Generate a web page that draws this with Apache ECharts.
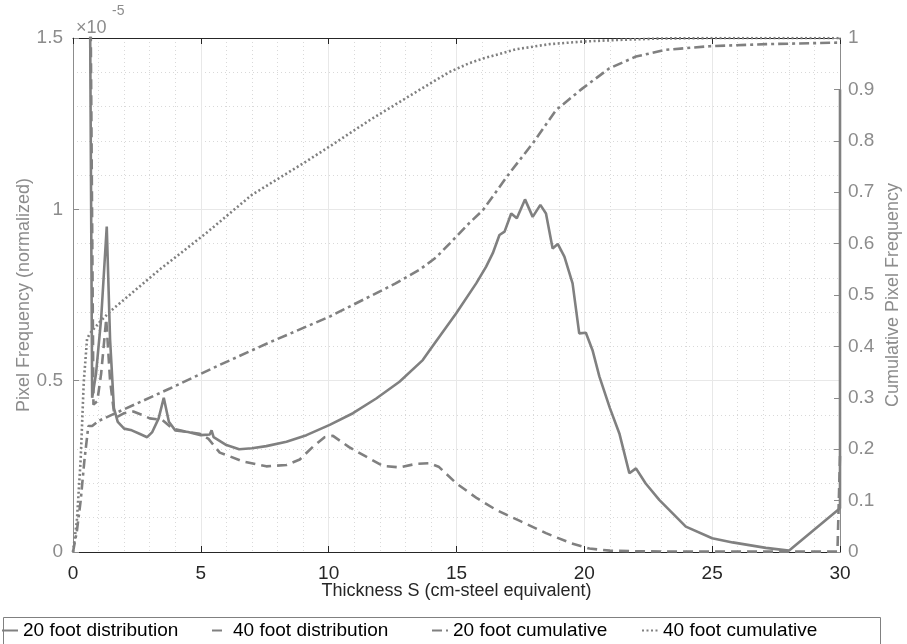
<!DOCTYPE html>
<html>
<head>
<meta charset="utf-8">
<script src="https://cdn.jsdelivr.net/npm/echarts@6/dist/echarts.min.js"></script>
<style>
  html, body { margin: 0; padding: 0; background: #fff; }
  #chart { width: 907px; height: 644px; }
</style>
</head>
<body>
<div id="chart"></div>
<script>
// thickness (cm-steel) and normalized pixel frequency (x1e-5)
var dist20X = [0.6, 0.75, 0.9, 1.1, 1.32, 1.45, 1.6, 1.75, 2.0, 2.3, 2.6, 2.9, 3.1, 3.35, 3.55, 3.75, 4.0, 4.5, 5.0, 5.35, 5.42, 5.5,
    6.0, 6.5, 7.0, 7.56, 8.35, 9.13, 10.04, 10.95, 11.86, 12.77, 13.68, 13.95, 14.99, 15.77, 16.16, 16.42, 16.68, 16.88,
    17.14, 17.36, 17.68, 17.98, 18.28, 18.5, 18.76, 18.96, 19.22, 19.54, 19.8, 20.06, 20.32, 20.59, 21.0, 21.37, 21.76,
    22.02, 22.4, 22.93, 23.97, 25.0, 25.8, 27.1, 28.0, 30.0, 30.0];
var dist20Y = [2.5, 0.45, 0.52, 0.68, 0.95, 0.62, 0.42, 0.38, 0.36, 0.355, 0.345, 0.335, 0.35, 0.39, 0.45, 0.38, 0.355, 0.35, 0.341, 0.343, 0.355, 0.335,
    0.312, 0.300, 0.303, 0.309, 0.322, 0.341, 0.371, 0.405, 0.448, 0.497, 0.56, 0.589, 0.697, 0.784, 0.833, 0.872, 0.925, 0.935,
    0.988, 0.974, 1.029, 0.978, 1.013, 0.988, 0.886, 0.899, 0.862, 0.784, 0.638, 0.64, 0.589, 0.512, 0.42, 0.346, 0.23,
    0.244, 0.2, 0.152, 0.074, 0.04, 0.028, 0.012, 0.004, 0.128, 1.35];

var dist40X = [0.6, 0.8, 0.95, 1.1, 1.3, 1.45, 1.6, 1.75, 2.0, 2.36, 2.7, 3.0, 3.5, 3.9, 4.5, 4.96, 5.3, 5.74, 6.1, 6.65,
    7.56, 8.35, 8.87, 9.38, 9.84, 10.17, 10.8, 11.47, 12.12, 12.77, 13.4, 13.95, 14.3, 15.0, 15.8, 16.55, 17.5, 18.5,
    19.5, 20.2, 21.0, 22.0, 25.0, 29.9, 30.0];
var dist40Y = [2.5, 0.43, 0.44, 0.52, 0.68, 0.5, 0.41, 0.395, 0.405, 0.41, 0.40, 0.39, 0.385, 0.36, 0.35, 0.345, 0.33, 0.29, 0.28, 0.264,
    0.25, 0.254, 0.27, 0.307, 0.335, 0.339, 0.306, 0.278, 0.251, 0.247, 0.257, 0.259, 0.249, 0.2, 0.157, 0.123, 0.09, 0.055,
    0.025, 0.01, 0.004, 0.002, 0.001, 0.001, 0.28];

// cumulative pixel frequency (right axis)
var cum20X = [0, 0.15, 0.3, 0.45, 0.6, 0.75, 1.0, 1.7, 3.79, 5.74, 7.7, 10.04, 11.6, 12.6, 13.55, 14.2, 14.73, 15.5, 16.03, 17.07,
    17.98, 18.9, 19.93, 20.98, 22.02, 23.19, 24.9, 27.1, 29.9, 30.0];
var cum20Y = [0, 0.04, 0.1, 0.18, 0.245, 0.245, 0.255, 0.271, 0.318, 0.364, 0.408, 0.458, 0.497, 0.522, 0.549, 0.573, 0.6, 0.64, 0.665, 0.737,
    0.795, 0.86, 0.902, 0.941, 0.964, 0.977, 0.984, 0.988, 0.991, 1.0];

var cum40X = [0, 0.15, 0.3, 0.42, 0.55, 0.66, 1.0, 1.45, 3.4, 3.79, 5.2, 7.0, 9.0, 10.04, 11.6, 13.55, 14.73, 15.5, 16.03,
    17.33, 18.63, 19.93, 21.2, 23.0, 25.0, 30.0];
var cum40Y = [0, 0.06, 0.18, 0.33, 0.415, 0.425, 0.445, 0.468, 0.55, 0.565, 0.62, 0.695, 0.756, 0.789, 0.84, 0.899, 0.934, 0.951, 0.96,
    0.978, 0.988, 0.993, 0.996, 0.999, 1.0, 1.0];

var seriesNames = ['20 foot distribution', '40 foot distribution', '20 foot cumulative', '40 foot cumulative'];

function pairs(xs, ys) {
    var out = [];
    for (var i = 0; i < xs.length; i++) out.push([xs[i], ys[i]]);
    return out;
}

var FONT = 'Liberation Sans, Arial, Helvetica, sans-serif';
var LINE = '#808080';
var AXGRAY = '#8c8c8c';
var DARK = '#262626';

var chart = echarts.init(document.getElementById('chart'), null, { renderer: 'canvas' });

function legendAt(name, left) {
    return {
        data: [name],
        left: left,
        top: 621,
        padding: 0,
        itemWidth: 16,
        itemHeight: 10,
        itemStyle: { opacity: 0 },
        textStyle: { fontFamily: FONT, fontSize: 19, color: '#000' }
    };
}

var option = {
    animation: false,
    backgroundColor: '#fff',
    textStyle: { fontFamily: FONT },
    grid: { left: 73, right: 67, top: 38, bottom: 92, containLabel: false, outerBoundsMode: 'none' },
    legend: [
        legendAt(seriesNames[0], 1),
        legendAt(seriesNames[1], 211),
        legendAt(seriesNames[2], 431),
        legendAt(seriesNames[3], 641)
    ],
    graphic: [
        { type: 'rect', shape: { x: 3.5, y: 617.5, width: 877, height: 40 },
          style: { fill: '#fff', stroke: '#808080', lineWidth: 1 }, z: -1 },
        { type: 'text', left: 76, top: 19, style: { text: '\u00d710', font: '18px ' + FONT, fill: AXGRAY } },
        { type: 'text', left: 112, top: 4, style: { text: '-5', font: '14px ' + FONT, fill: AXGRAY } }
    ],
    xAxis: [{
        type: 'value', min: 0, max: 30, interval: 5,
        name: 'Thickness S (cm-steel equivalent)', nameLocation: 'middle', nameGap: 30, nameMoveOverlap: false,
        nameTextStyle: { fontFamily: FONT, fontSize: 18, color: DARK },
        axisLine: { show: true, onZero: false, lineStyle: { color: DARK, width: 1 } },
        axisTick: { inside: true, length: 6, lineStyle: { color: DARK } },
        axisLabel: { fontFamily: FONT, fontSize: 19, color: DARK, margin: 12 },
        splitLine: { show: true, lineStyle: { color: '#e8e8e8', width: 1 } },
        minorTick: { show: false, splitNumber: 5 },
        minorSplitLine: { show: true, lineStyle: { color: '#d9d9d9', width: 1, type: [1, 3] } }
    }, {
        type: 'value', min: 0, max: 30, interval: 5, position: 'top',
        axisLine: { show: true, onZero: false, lineStyle: { color: DARK, width: 1 } },
        axisTick: { inside: true, length: 6, lineStyle: { color: DARK } },
        axisLabel: { show: false },
        splitLine: { show: false }
    }],
    yAxis: [{
        type: 'value', min: 0, max: 1.5, interval: 0.5, position: 'left',
        name: 'Pixel Frequency (normalized)', nameLocation: 'middle', nameGap: 40, nameRotate: 90, nameMoveOverlap: false,
        nameTextStyle: { fontFamily: FONT, fontSize: 18, color: AXGRAY },
        axisLine: { show: true, onZero: false, lineStyle: { color: AXGRAY, width: 1 } },
        axisTick: { inside: true, length: 6, lineStyle: { color: AXGRAY } },
        axisLabel: { fontFamily: FONT, fontSize: 19, color: AXGRAY, margin: 10 },
        splitLine: { show: true, lineStyle: { color: '#e8e8e8', width: 1 } },
        minorTick: { show: false, splitNumber: 5 },
        minorSplitLine: { show: true, lineStyle: { color: '#d9d9d9', width: 1, type: [1, 3] } }
    }, {
        type: 'value', min: 0, max: 1, interval: 0.1, position: 'right',
        name: 'Cumulative Pixel Frequency', nameLocation: 'middle', nameGap: 44, nameRotate: 90, nameMoveOverlap: false,
        nameTextStyle: { fontFamily: FONT, fontSize: 18, color: AXGRAY },
        axisLine: { show: true, onZero: false, lineStyle: { color: AXGRAY, width: 1 } },
        axisTick: { inside: true, length: 6, lineStyle: { color: AXGRAY } },
        axisLabel: { fontFamily: FONT, fontSize: 19, color: AXGRAY, margin: 8 },
        splitLine: { show: false }
    }],
    series: [{
        name: seriesNames[0], type: 'line', xAxisIndex: 0, yAxisIndex: 0,
        data: pairs(dist20X, dist20Y), showSymbol: false, symbol: 'none',
        lineStyle: { color: LINE, width: 2.6, type: 'solid' }, itemStyle: { color: LINE }, z: 5
    }, {
        name: seriesNames[1], type: 'line', xAxisIndex: 0, yAxisIndex: 0,
        data: pairs(dist40X, dist40Y), showSymbol: false, symbol: 'none',
        lineStyle: { color: LINE, width: 2.6, type: [10, 6] }, itemStyle: { color: LINE }, z: 4
    }, {
        name: seriesNames[2], type: 'line', xAxisIndex: 0, yAxisIndex: 1,
        data: pairs(cum20X, cum20Y), showSymbol: false, symbol: 'none',
        lineStyle: { color: LINE, width: 2.6, type: [10, 4, 3, 4] }, itemStyle: { color: LINE }, z: 3
    }, {
        name: seriesNames[3], type: 'line', xAxisIndex: 0, yAxisIndex: 1,
        data: pairs(cum40X, cum40Y), showSymbol: false, symbol: 'none',
        lineStyle: { color: LINE, width: 2.6, type: [2, 2.5] }, itemStyle: { color: LINE }, z: 3
    }]
};

chart.setOption(option);
</script>
</body>
</html>
